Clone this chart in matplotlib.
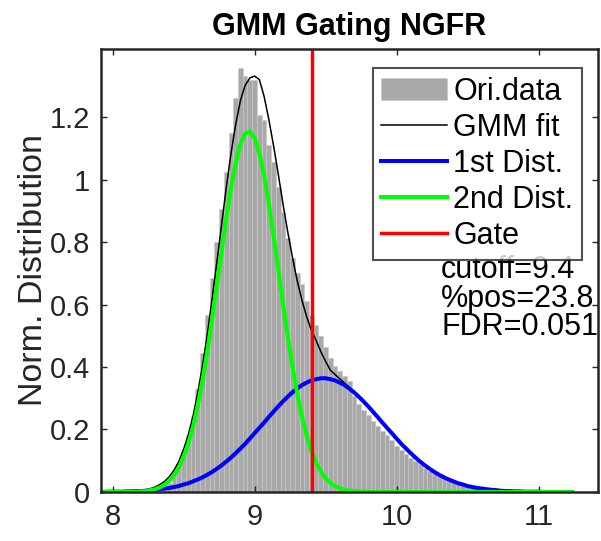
import numpy as np
import matplotlib
matplotlib.use("Agg")
import matplotlib.pyplot as plt

plt.rcParams['font.family'] = ['Liberation Sans', 'DejaVu Sans']

# x grid of the histogram bins / fitted curves
x_lo, x_hi, n_bins = 7.93, 11.23, 100

# normalised histogram of the original data
ori_data = [
    0, 0, 0, 0, 0, 0, 0, 0.001, 0.001, 0.002,
    0.003, 0.005, 0.010, 0.018, 0.030, 0.052, 0.088, 0.130, 0.182, 0.242,
    0.330, 0.445, 0.565, 0.685, 0.800, 0.905, 1.025, 1.148, 1.262, 1.356,
    1.330, 1.320, 1.318, 1.205, 1.192, 1.112, 1.055, 0.975, 0.895, 0.812,
    0.748, 0.702, 0.666, 0.612, 0.566, 0.534, 0.498, 0.465, 0.430, 0.402,
    0.386, 0.372, 0.356, 0.308, 0.280, 0.262, 0.245, 0.228, 0.212, 0.196,
    0.183, 0.165, 0.148, 0.135, 0.122, 0.110, 0.099, 0.090, 0.078, 0.068,
    0.060, 0.051, 0.044, 0.037, 0.031, 0.026, 0.021, 0.017, 0.014, 0.011,
    0.009, 0.007, 0.005, 0.004, 0.003, 0.003, 0.002, 0.002, 0.001, 0.001,
    0.001, 0.001, 0.001, 0.001, 0.001, 0, 0, 0, 0, 0,
]

gmm_fit = [
    0.000, 0.001, 0.001, 0.001, 0.001, 0.002, 0.002, 0.004, 0.005, 0.007,
    0.011, 0.016, 0.024, 0.034, 0.049, 0.070, 0.098, 0.136, 0.183, 0.243,
    0.318, 0.404, 0.503, 0.615, 0.732, 0.851, 0.972, 1.081, 1.175, 1.252,
    1.301, 1.325, 1.331, 1.320, 1.267, 1.193, 1.109, 1.018, 0.922, 0.833,
    0.751, 0.676, 0.614, 0.561, 0.518, 0.485, 0.449, 0.418, 0.390, 0.376,
    0.362, 0.349, 0.335, 0.321, 0.306, 0.290, 0.274, 0.257, 0.240, 0.222,
    0.205, 0.188, 0.171, 0.154, 0.139, 0.124, 0.110, 0.097, 0.085, 0.074,
    0.064, 0.055, 0.047, 0.040, 0.034, 0.028, 0.024, 0.019, 0.016, 0.013,
    0.011, 0.009, 0.007, 0.006, 0.004, 0.003, 0.003, 0.002, 0.002, 0.001,
    0.001, 0.001, 0.001, 0, 0, 0, 0, 0, 0, 0,
]

dist1 = [
    0.000, 0.001, 0.001, 0.001, 0.001, 0.002, 0.002, 0.003, 0.003, 0.004,
    0.006, 0.007, 0.009, 0.011, 0.013, 0.016, 0.019, 0.024, 0.028, 0.034,
    0.040, 0.047, 0.055, 0.064, 0.074, 0.085, 0.097, 0.110, 0.124, 0.139,
    0.154, 0.171, 0.188, 0.205, 0.222, 0.240, 0.257, 0.274, 0.290, 0.305,
    0.319, 0.331, 0.342, 0.350, 0.357, 0.361, 0.364, 0.364, 0.361, 0.357,
    0.350, 0.342, 0.331, 0.319, 0.305, 0.290, 0.274, 0.257, 0.240, 0.222,
    0.205, 0.188, 0.171, 0.154, 0.139, 0.124, 0.110, 0.097, 0.085, 0.074,
    0.064, 0.055, 0.047, 0.040, 0.034, 0.028, 0.024, 0.019, 0.016, 0.013,
    0.011, 0.009, 0.007, 0.006, 0.004, 0.003, 0.003, 0.002, 0.002, 0.001,
    0.001, 0.001, 0.001, 0, 0, 0, 0, 0, 0, 0,
]

dist2 = [
    0, 0, 0, 0, 0, 0, 0, 0.001, 0.002, 0.003,
    0.006, 0.009, 0.015, 0.023, 0.036, 0.054, 0.078, 0.112, 0.155, 0.209,
    0.278, 0.357, 0.448, 0.551, 0.658, 0.766, 0.875, 0.971, 1.051, 1.113,
    1.147, 1.154, 1.133, 1.085, 1.015, 0.923, 0.822, 0.714, 0.602, 0.498,
    0.402, 0.315, 0.242, 0.181, 0.131, 0.094, 0.065, 0.044, 0.029, 0.019,
    0.012, 0.007, 0.004, 0.003, 0.001, 0, 0, 0, 0, 0,
    0, 0, 0, 0, 0, 0, 0, 0, 0, 0,
    0, 0, 0, 0, 0, 0, 0, 0, 0, 0,
    0, 0, 0, 0, 0, 0, 0, 0, 0, 0,
    0, 0, 0, 0, 0, 0, 0, 0, 0, 0,
]

cutoff = 9.4
pct_pos = 23.8
fdr = 0.051

xs = np.linspace(x_lo, x_hi, n_bins)
width = xs[1] - xs[0]

axcol = '#262626'
fig = plt.figure(figsize=(6.01, 5.41), dpi=100)
ax = fig.add_axes([0.168, 0.0906, 0.827, 0.819])

h_bar = ax.bar(xs, ori_data, width=width, color='#a9a9a9', edgecolor='#c8c8c8',
               linewidth=0.4, label='Ori.data')
h_fit, = ax.plot(xs, gmm_fit, color='k', lw=1.1, label='GMM fit')
h_d1, = ax.plot(xs, dist1, color='#0000ff', lw=2.9, label='1st Dist.')
h_d2, = ax.plot(xs, dist2, color='#00ff00', lw=2.9, label='2nd Dist.')
h_gate = ax.axvline(cutoff, color='#ff0000', lw=2.5, label='Gate')

ax.set_xlim(7.915, 11.415)
ax.set_ylim(0, 1.418)
ax.set_xticks([8, 9, 10, 11])
ax.set_yticks([0, 0.2, 0.4, 0.6, 0.8, 1, 1.2])
ax.set_yticklabels(['0', '0.2', '0.4', '0.6', '0.8', '1', '1.2'])
ax.tick_params(direction='in', length=4, width=1, colors=axcol,
               labelsize=21, top=True, right=True, pad=8)
for s in ax.spines.values():
    s.set_color(axcol)
    s.set_linewidth(1.8)

ax.set_title('GMM Gating NGFR', fontsize=22, fontweight='bold', pad=10)
ax.set_ylabel('Norm. Distribution', fontsize=24.5, color=axcol, labelpad=0)

leg = ax.legend([h_bar, h_fit, h_d1, h_d2, h_gate],
                ['Ori.data', 'GMM fit', '1st Dist.', '2nd Dist.', 'Gate'],
                loc='upper left', bbox_to_anchor=(0.547, 0.957), fontsize=22,
                frameon=True, fancybox=False, edgecolor=axcol,
                handlelength=2.15, handletextpad=0.2, labelspacing=0.2,
                borderpad=0.28, borderaxespad=0)
leg.get_frame().set_linewidth(1.5)

ax.text(10.31, 0.71, f'cutoff={cutoff}', fontsize=22, va='center')
ax.text(10.31, 0.619, f'%pos={pct_pos}', fontsize=22, va='center')
ax.text(10.31, 0.527, f'FDR={fdr}', fontsize=22, va='center')

fig.savefig('out.png', dpi=100)
